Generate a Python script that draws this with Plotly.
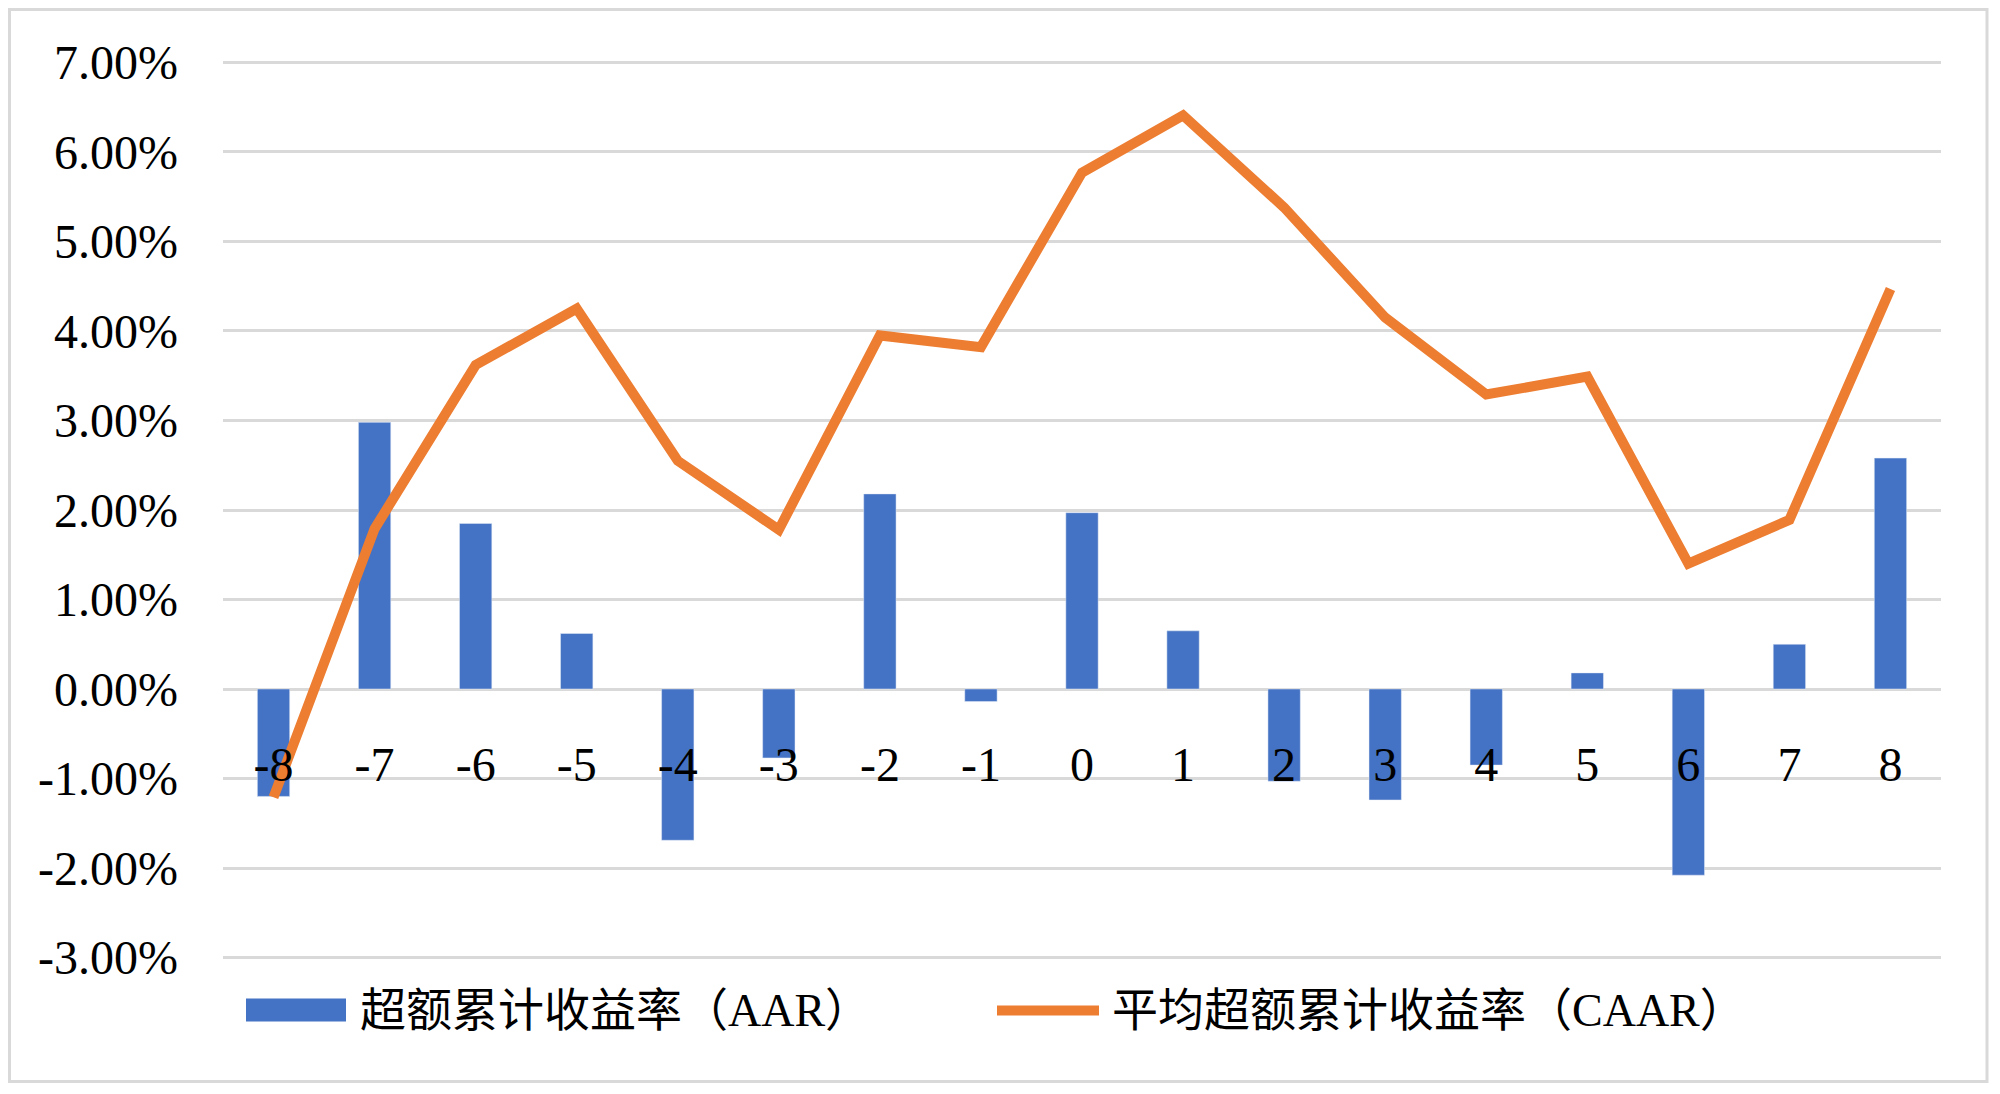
import plotly.graph_objects as go

# event window days
days = ['-8', '-7', '-6', '-5', '-4', '-3', '-2', '-1', '0', '1', '2', '3', '4', '5', '6', '7', '8']

# AAR (%) per day
aar = [-1.20, 2.98, 1.85, 0.62, -1.69, -0.77, 2.18, -0.14, 1.97, 0.65,
       -1.03, -1.24, -0.85, 0.18, -2.08, 0.50, 2.58]

# CAAR (%) per day
caar = [-1.21, 1.79, 3.62, 4.25, 2.55, 1.78, 3.95, 3.82, 5.77, 6.41,
        5.38, 4.15, 3.29, 3.49, 1.40, 1.89, 4.47]

y_tick_vals = [-3, -2, -1, 0, 1, 2, 3, 4, 5, 6, 7]
y_tick_text = ['-3.00%', '-2.00%', '-1.00%', '0.00%', '1.00%', '2.00%',
               '3.00%', '4.00%', '5.00%', '6.00%', '7.00%']

name_aar = '超额累计收益率（AAR）'
name_caar = '平均超额累计收益率（CAAR）'

BLUE = '#4472C4'
ORANGE = '#ED7D31'
GRID = '#D9D9D9'
FONT = 'Liberation Serif, Times New Roman, Noto Sans CJK SC, serif'

# page has an 8px body margin, so the figure is a bit smaller than the window
W, H = 1992, 1086
ML, MR, MT, MB = 215, 59, 50, 131.5
Y_RANGE = [-3.05, 7.05]

fig = go.Figure()

fig.add_trace(go.Bar(x=days, y=aar, marker_color=BLUE, showlegend=False,
                     name=name_aar))
fig.add_trace(go.Scatter(x=days, y=caar, mode='lines', showlegend=False,
                         line=dict(color=ORANGE, width=10), name=name_caar))

pw, ph = W - ML - MR, H - MT - MB
def px_x(p):
    return (p - ML) / pw
def px_y(p):
    return (H - MB - p) / ph

# chart border
fig.add_shape(type='rect', xref='paper', yref='paper',
              x0=px_x(1.5), x1=px_x(1979), y0=px_y(1074), y1=px_y(1.5),
              line=dict(color=GRID, width=3), layer='below')

# excel-like legend: wide blue swatch and orange line
fig.add_shape(type='rect', xref='paper', yref='paper',
              x0=px_x(238), x1=px_x(338), y0=px_y(1014), y1=px_y(991),
              fillcolor=BLUE, line_width=0)
fig.add_shape(type='line', xref='paper', yref='paper',
              x0=px_x(989), x1=px_x(1091), y0=px_y(1003), y1=px_y(1003),
              line=dict(color=ORANGE, width=10))
fig.add_annotation(text=name_aar, xref='paper', yref='paper',
                   x=px_x(350), y=px_y(1003), xanchor='left', yanchor='middle',
                   showarrow=False, font=dict(size=46, family=FONT))
fig.add_annotation(text=name_caar, xref='paper', yref='paper',
                   x=px_x(1102), y=px_y(1003), xanchor='left', yanchor='middle',
                   showarrow=False, font=dict(size=46, family=FONT))

zero_pos = (0 - Y_RANGE[0]) / (Y_RANGE[1] - Y_RANGE[0])

fig.update_layout(
    width=W, height=H,
    margin=dict(l=ML, r=MR, t=MT, b=MB),
    paper_bgcolor='white', plot_bgcolor='white',
    font=dict(family=FONT, size=48, color='black'),
    bargap=0.68,
    showlegend=False,
    xaxis=dict(type='category', anchor='free', position=zero_pos,
               showgrid=False, showline=False, ticks='',
               ticklabelstandoff=43, tickfont=dict(size=48)),
    yaxis=dict(range=Y_RANGE, tickvals=y_tick_vals, ticktext=y_tick_text,
               showgrid=True, gridcolor=GRID, gridwidth=3,
               zeroline=True, zerolinecolor=GRID, zerolinewidth=3,
               showline=False, ticks='', ticklabelstandoff=44,
               tickfont=dict(size=48)),
)

fig.write_html('out.html')
